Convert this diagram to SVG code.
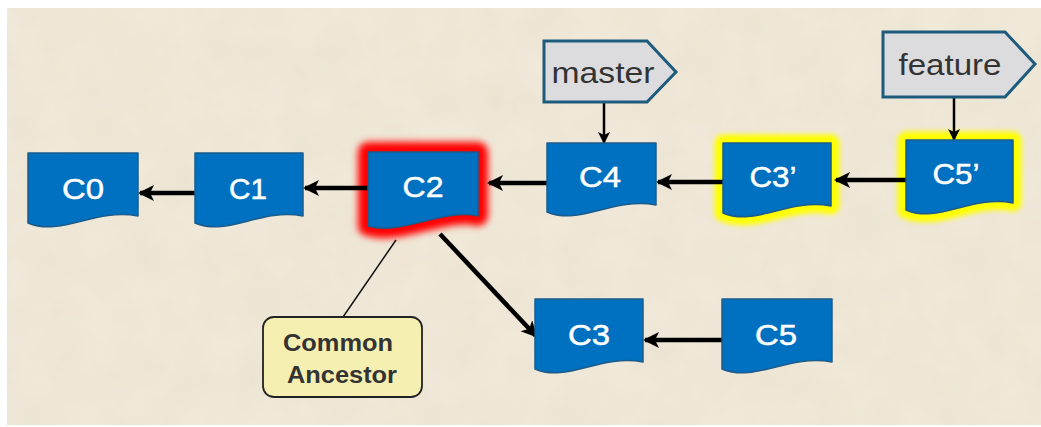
<svg xmlns="http://www.w3.org/2000/svg" width="1041" height="427" viewBox="0 0 1041 427">
  <style>
    .commit { fill: #0070C0; stroke: #1b5c8c; stroke-width: 1.5; stroke-linejoin: round; }
    .clabel { font-family: "Liberation Sans", Arial, sans-serif; font-size: 29px; fill: #ffffff; stroke: #ffffff; stroke-width: 0.5; text-anchor: middle; }
    .ref { fill: #dcdcdf; stroke: #1d5b7c; stroke-width: 3; stroke-linejoin: miter; }
    .reftext { font-family: "Liberation Sans", Arial, sans-serif; font-size: 29px; fill: #333333; text-anchor: middle; }
    .note { fill: #f6efb2; stroke: #222222; stroke-width: 1.8; }
    .notetext { font-family: "Liberation Sans", Arial, sans-serif; font-size: 23px; font-weight: bold; fill: #333333; text-anchor: middle; }
    .edge { stroke: #000000; stroke-width: 4.5; fill: none; }
    .ptr { stroke: #000000; stroke-width: 2.5; fill: none; }
    .lead { stroke: #111111; stroke-width: 1.5; fill: none; }
    .glow-red { fill: #ff0000; stroke: #ff0000; stroke-width: 20; stroke-linejoin: round; }
    .glow-yellow { fill: #ffff00; stroke: #ffff00; stroke-width: 17; stroke-linejoin: round; }
  </style>
  <defs>
    <marker id="head" markerUnits="userSpaceOnUse" markerWidth="18" markerHeight="18" refX="14" refY="8" orient="auto">
      <path d="M0,0 L16,8 L0,16 L4,8 Z" fill="#000"/>
    </marker>
    <marker id="headSmall" markerUnits="userSpaceOnUse" markerWidth="14" markerHeight="14" refX="11" refY="6" orient="auto">
      <path d="M0,0 L12,6 L0,12 L3,6 Z" fill="#000"/>
    </marker>
    <filter id="soft" x="-30%" y="-30%" width="160%" height="160%">
      <feGaussianBlur stdDeviation="3.5"/>
    </filter>
    <filter id="softer" x="-30%" y="-30%" width="160%" height="160%">
      <feGaussianBlur stdDeviation="2.5"/>
    </filter>
    <filter id="paper" x="0" y="0" width="100%" height="100%">
      <feTurbulence type="fractalNoise" baseFrequency="0.025" numOctaves="3" seed="7" result="n"/>
      <feColorMatrix in="n" type="matrix" values="0 0 0 0 0.6  0 0 0 0 0.52  0 0 0 0 0.4  0 0 0 0.16 -0.04"/>
    </filter>
  </defs>

  <!-- paper background -->
  <rect x="7" y="8" width="1034" height="417" fill="#f0e8d8"/>
  <rect x="7" y="8" width="1034" height="417" filter="url(#paper)"/>

  <!-- highlights behind C2, C3' and C5' -->
  <g id="highlights">
    <path class="glow-red" d="M368,152 H478 V216 C444,208 401,236 368,226 Z" filter="url(#soft)"/>
    <path class="glow-yellow" d="M723,143 H831 V206 C788,198 755,227 723,213 Z" filter="url(#softer)"/>
    <path class="glow-yellow" d="M906,140 H1013 V203 C970,195 938,224 906,210 Z" filter="url(#softer)"/>
  </g>

  <!-- connectors -->
  <g id="connectors">
    <line class="edge" x1="195" y1="193" x2="140" y2="193" marker-end="url(#head)"/>
    <line class="edge" x1="368" y1="188" x2="305" y2="188" marker-end="url(#head)"/>
    <line class="edge" x1="547" y1="183" x2="489" y2="183" marker-end="url(#head)"/>
    <line class="edge" x1="723" y1="182" x2="658" y2="182" marker-end="url(#head)"/>
    <line class="edge" x1="906" y1="180" x2="836" y2="180" marker-end="url(#head)"/>
    <line class="edge" x1="722" y1="340" x2="645" y2="340" marker-end="url(#head)"/>
    <line class="edge" x1="440" y1="234" x2="536" y2="336" marker-end="url(#head)"/>
    <line class="ptr" x1="604" y1="102" x2="604" y2="143" marker-end="url(#headSmall)"/>
    <line class="ptr" x1="954" y1="97" x2="954" y2="140" marker-end="url(#headSmall)"/>
    <line class="lead" x1="396" y1="240" x2="343" y2="317"/>
  </g>

  <!-- commits: document shapes with a wavy lower edge -->
  <g id="C0">
    <path class="commit" d="M28,153 H138 V216 C94,208 61,237 28,223 Z"/>
    <text class="clabel" x="83" y="199" textLength="42" lengthAdjust="spacingAndGlyphs">C0</text>
  </g>
  <g id="C1">
    <path class="commit" d="M195,153 H303 V216 C260,208 228,237 195,223 Z"/>
    <text class="clabel" x="248" y="199" textLength="38" lengthAdjust="spacingAndGlyphs">C1</text>
  </g>
  <g id="C2">
    <path class="commit" d="M368,152 H478 V216 C444,208 401,236 368,226 Z"/>
    <text class="clabel" x="423" y="197" textLength="41" lengthAdjust="spacingAndGlyphs">C2</text>
  </g>
  <g id="C4">
    <path class="commit" d="M547,143 H656 V205 C612,197 580,226 547,212 Z"/>
    <text class="clabel" x="600" y="187" textLength="42" lengthAdjust="spacingAndGlyphs">C4</text>
  </g>
  <g id="C3-prime">
    <path class="commit" d="M723,143 H831 V206 C788,198 755,227 723,213 Z"/>
    <text class="clabel" x="773" y="187" textLength="47" lengthAdjust="spacingAndGlyphs">C3’</text>
  </g>
  <g id="C5-prime">
    <path class="commit" d="M906,140 H1013 V203 C970,195 938,224 906,210 Z"/>
    <text class="clabel" x="956" y="184" textLength="47" lengthAdjust="spacingAndGlyphs">C5’</text>
  </g>
  <g id="C3">
    <path class="commit" d="M535,299 H643 V362 C600,354 567,383 535,369 Z"/>
    <text class="clabel" x="589" y="345" textLength="42" lengthAdjust="spacingAndGlyphs">C3</text>
  </g>
  <g id="C5">
    <path class="commit" d="M722,299 H832 V362 C788,354 755,383 722,369 Z"/>
    <text class="clabel" x="776" y="345" textLength="42" lengthAdjust="spacingAndGlyphs">C5</text>
  </g>

  <!-- branch pointers -->
  <g id="master">
    <path class="ref" d="M544,41 H647 L676,72 L647,102 H544 Z"/>
    <text class="reftext" x="603" y="83" textLength="103" lengthAdjust="spacingAndGlyphs">master</text>
  </g>
  <g id="feature">
    <path class="ref" d="M883,32 H1005 L1035,64 L1005,97 H883 Z"/>
    <text class="reftext" x="950" y="75" textLength="103" lengthAdjust="spacingAndGlyphs">feature</text>
  </g>

  <!-- annotation -->
  <g id="common-ancestor">
    <rect class="note" x="263" y="317" width="159" height="80" rx="11" ry="11"/>
    <text class="notetext" x="338" y="351" textLength="110" lengthAdjust="spacingAndGlyphs">Common</text>
    <text class="notetext" x="342" y="383" textLength="110" lengthAdjust="spacingAndGlyphs">Ancestor</text>
  </g>
</svg>
